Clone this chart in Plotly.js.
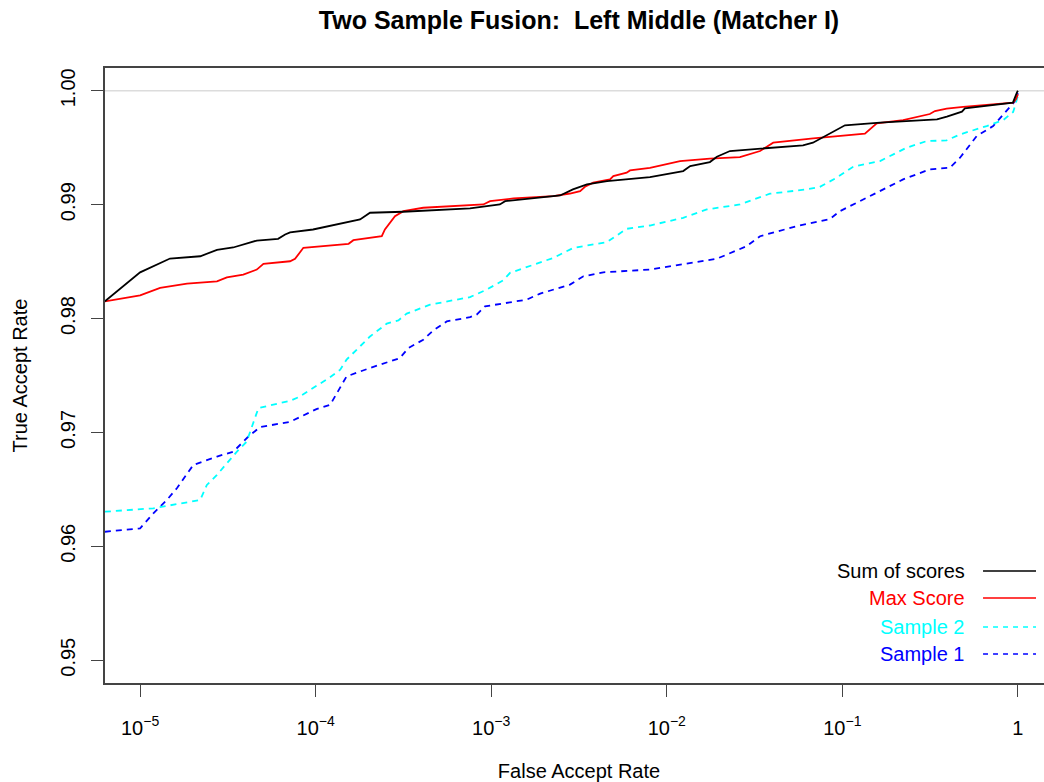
<!DOCTYPE html>
<html>
<head>
<meta charset="utf-8">
<script src="https://cdn.plot.ly/plotly-3.0.1.min.js"></script>
<style>
  html, body { margin: 0; padding: 0; overflow: hidden; background: #ffffff; }
  #chart { width: 1056px; height: 782px; }
</style>
</head>
<body>
<div id="chart"></div>
<script>
// ROC-style curves: true accept rate against false accept rate (log scale)
const farSum = [6.3e-6, 1.0e-5, 1.48e-5, 2.2e-5, 2.74e-5, 3.39e-5, 4.62e-5, 6.11e-5, 6.7e-5, 7.15e-5, 9.66e-5, 1.79e-4, 2.04e-4, 3.15e-4, 7.57e-4, 1.12e-3, 1.2e-3, 2.47e-3, 2.92e-3, 3.51e-3, 4.57e-3, 8.02e-3, 1.24e-2, 1.36e-2, 1.76e-2, 1.93e-2, 2.29e-2, 3.72e-2, 5.97e-2, 6.8e-2, 7.45e-2, 0.1035, 0.164, 0.346, 0.394, 0.480, 0.499, 0.937, 0.987, 1];
const tarSum = [0.98151, 0.98406, 0.98527, 0.98547, 0.98603, 0.98624, 0.98685, 0.98700, 0.98738, 0.98756, 0.98782, 0.98870, 0.98929, 0.98938, 0.98967, 0.99002, 0.99031, 0.99081, 0.99134, 0.99178, 0.99207, 0.99242, 0.99295, 0.99339, 0.99374, 0.99421, 0.99471, 0.99497, 0.99521, 0.99544, 0.99578, 0.99697, 0.99720, 0.99749, 0.99773, 0.99817, 0.99846, 0.99896, 0.99984, 1.0];

const farMax = [6.3e-6, 1.0e-5, 1.3e-5, 1.85e-5, 2.74e-5, 3.12e-5, 3.87e-5, 4.62e-5, 5.04e-5, 7.15e-5, 7.63e-5, 8.51e-5, 1.54e-4, 1.64e-4, 2.38e-4, 2.48e-4, 2.83e-4, 3.16e-4, 4.1e-4, 7.57e-4, 9.02e-4, 9.85e-4, 1.34e-3, 2.26e-3, 2.81e-3, 3.21e-3, 3.42e-3, 3.81e-3, 4.75e-3, 4.96e-3, 5.91e-3, 6.17e-3, 8.02e-3, 1.19e-2, 1.76e-2, 2.61e-2, 3.4e-2, 4.04e-2, 6.83e-2, 0.1345, 0.157, 0.222, 0.315, 0.337, 0.393, 0.488, 0.940, 0.974, 1];
const tarMax = [0.98151, 0.98204, 0.98269, 0.98307, 0.98327, 0.98362, 0.98386, 0.98430, 0.98480, 0.98503, 0.98524, 0.98621, 0.98656, 0.98688, 0.98723, 0.98782, 0.98899, 0.98943, 0.98973, 0.98997, 0.99002, 0.99031, 0.99055, 0.99075, 0.99098, 0.99119, 0.99157, 0.99193, 0.99222, 0.99251, 0.99281, 0.99301, 0.99323, 0.99383, 0.99404, 0.99418, 0.99471, 0.99544, 0.99582, 0.99624, 0.99714, 0.99743, 0.99796, 0.99822, 0.99843, 0.99858, 0.99896, 0.99925, 0.99969];

const farS2 = [6.3e-6, 1.19e-5, 2.2e-5, 2.4e-5, 2.74e-5, 3.56e-5, 4.05e-5, 4.62e-5, 4.72e-5, 7.15e-5, 8.0e-5, 1.19e-4, 1.38e-4, 1.5e-4, 2.04e-4, 2.54e-4, 2.96e-4, 3.3e-4, 4.48e-4, 7.57e-4, 9.42e-4, 1.17e-3, 1.28e-3, 2.26e-3, 2.94e-3, 4.55e-3, 5.91e-3, 8.02e-3, 1.24e-2, 1.69e-2, 2.61e-2, 3.87e-2, 6.26e-2, 7.45e-2, 9.28e-2, 0.1153, 0.164, 0.232, 0.302, 0.393, 0.468, 0.664, 0.825, 0.940, 1];
const tarS2 = [0.96304, 0.96334, 0.96407, 0.96539, 0.96627, 0.96832, 0.96920, 0.97170, 0.97214, 0.97278, 0.97310, 0.97478, 0.97551, 0.97639, 0.97843, 0.97955, 0.97984, 0.98043, 0.98122, 0.98188, 0.98254, 0.98336, 0.98401, 0.98533, 0.98621, 0.98670, 0.98788, 0.98817, 0.98885, 0.98958, 0.99002, 0.99096, 0.99134, 0.99156, 0.99237, 0.99333, 0.99383, 0.99500, 0.99558, 0.99565, 0.99617, 0.99690, 0.99743, 0.99814, 0.99954];

const farS1 = [6.3e-6, 1.0e-5, 1.19e-5, 1.42e-5, 1.62e-5, 2.01e-5, 2.74e-5, 3.4e-5, 4.14e-5, 4.82e-5, 7.15e-5, 1.01e-4, 1.21e-4, 1.5e-4, 2.04e-4, 3.02e-4, 3.37e-4, 4.1e-4, 4.68e-4, 5.58e-4, 7.57e-4, 8.26e-4, 9.22e-4, 1.59e-3, 1.9e-3, 2.81e-3, 3.35e-3, 4.35e-3, 8.02e-3, 1.92e-2, 2.85e-2, 3.4e-2, 5.49e-2, 8.5e-2, 9.69e-2, 0.15, 0.222, 0.315, 0.41, 0.468, 0.582, 0.723, 0.983, 1];
const tarS1 = [0.96128, 0.96158, 0.96290, 0.96407, 0.96510, 0.96715, 0.96788, 0.96832, 0.96964, 0.97047, 0.97093, 0.97205, 0.97243, 0.97492, 0.97566, 0.97653, 0.97741, 0.97814, 0.97896, 0.97975, 0.98012, 0.98034, 0.98107, 0.98166, 0.98219, 0.98298, 0.98371, 0.98406, 0.98430, 0.98524, 0.98635, 0.98723, 0.98811, 0.98874, 0.98943, 0.99090, 0.99222, 0.99310, 0.99325, 0.99412, 0.99602, 0.99690, 0.99925, 0.99978];

// Axis ticks
const xTickVals = [1e-5, 1e-4, 1e-3, 1e-2, 1e-1, 1];
const xTickText = ['10<sup>\u22125</sup>', '10<sup>\u22124</sup>', '10<sup>\u22123</sup>', '10<sup>\u22122</sup>', '10<sup>\u22121</sup>', '1'];
const yTickVals = [0.95, 0.96, 0.97, 0.98, 0.99, 1.00];
const yTickText = ['0.95', '0.96', '0.97', '0.98', '0.99', '1.00'];

// Legend entries, top to bottom
const seriesNames = ['Sum of scores', 'Max Score', 'Sample 2', 'Sample 1'];
const seriesColors = ['#000000', '#ff0000', '#00ffff', '#0000ff'];
const seriesDash = ['solid', 'solid', '6px,5px', '6px,5px'];

const FONT = 'Liberation Sans, Arial, Helvetica, sans-serif';

const seriesX = [farSum, farMax, farS2, farS1];
const seriesY = [tarSum, tarMax, tarS2, tarS1];

// draw dashed first so solid curves sit on top
const order = [3, 2, 1, 0];
const traces = order.map(i => ({
  type: 'scatter',
  mode: 'lines',
  name: seriesNames[i],
  x: seriesX[i],
  y: seriesY[i],
  line: { color: seriesColors[i], width: 1.8, dash: seriesDash[i] },
  hoverinfo: 'x+y+name',
  showlegend: false
}));

// legend drawn inside the plot: right-aligned coloured text with a line sample to its right
const legendRows = [0.1821, 0.1382, 0.0911, 0.0472];
const annotations = seriesNames.map((name, i) => ({
  xref: 'paper', yref: 'paper',
  x: 0.9095, y: legendRows[i],
  xanchor: 'right', yanchor: 'middle',
  text: name, showarrow: false,
  font: { family: FONT, size: 20, color: seriesColors[i] }
}));
const shapes = seriesNames.map((name, i) => ({
  type: 'line', xref: 'paper', yref: 'paper',
  x0: 0.9262, x1: 0.9821, y0: legendRows[i], y1: legendRows[i],
  line: { color: seriesColors[i], width: 1.4, dash: seriesDash[i] === 'solid' ? 'solid' : '5px,5px' }
}));
// light reference lines at TAR = 1 and FAR = 1
shapes.push({ type: 'line', xref: 'paper', yref: 'y', x0: 0, x1: 1, y0: 1, y1: 1,
  line: { color: '#dcdcdc', width: 1.5 }, layer: 'below' });
shapes.push({ type: 'line', xref: 'x', yref: 'paper', x0: 0, x1: 0, y0: 0, y1: 1,
  line: { color: '#dcdcdc', width: 1.5 }, layer: 'below' });

const layout = {
  width: 1056,
  height: 782,
  margin: { l: 105, r: 3, t: 68, b: 99 },
  paper_bgcolor: '#ffffff',
  plot_bgcolor: '#ffffff',
  showlegend: false,
  font: { family: FONT, color: '#000000' },
  title: {
    text: 'Two Sample Fusion:\u00a0 Left Middle (Matcher I)',
    font: { family: FONT, size: 25, color: '#000000', weight: 'bold' },
    x: 0.5, xanchor: 'center', xref: 'paper',
    y: 0.974, yanchor: 'middle', yref: 'container'
  },
  xaxis: {
    type: 'log',
    range: [-5.2, 0.2],
    tickvals: xTickVals,
    ticktext: xTickText,
    ticks: 'outside', ticklen: 12, tickwidth: 1.3, tickcolor: '#444444',
    ticklabelstandoff: 14,
    tickfont: { family: FONT, size: 20, color: '#000000' },
    showline: true, linecolor: '#444444', linewidth: 1.5, mirror: true,
    showgrid: false, zeroline: false,
    title: { text: 'False Accept Rate', font: { family: FONT, size: 20, color: '#000000' }, standoff: 26 }
  },
  yaxis: {
    range: [0.948, 1.002],
    tickvals: yTickVals,
    ticktext: yTickText,
    tickangle: -90,
    ticks: 'outside', ticklen: 12, tickwidth: 1.3, tickcolor: '#444444',
    ticklabelstandoff: 8,
    tickfont: { family: FONT, size: 20, color: '#000000' },
    showline: true, linecolor: '#444444', linewidth: 1.5, mirror: false,
    showgrid: false, zeroline: false,
    title: { text: 'True Accept Rate', font: { family: FONT, size: 20, color: '#000000' }, standoff: 24 }
  },
  annotations: annotations,
  shapes: shapes
};

Plotly.newPlot('chart', traces, layout, { displayModeBar: false, staticPlot: false });
</script>
</body>
</html>
